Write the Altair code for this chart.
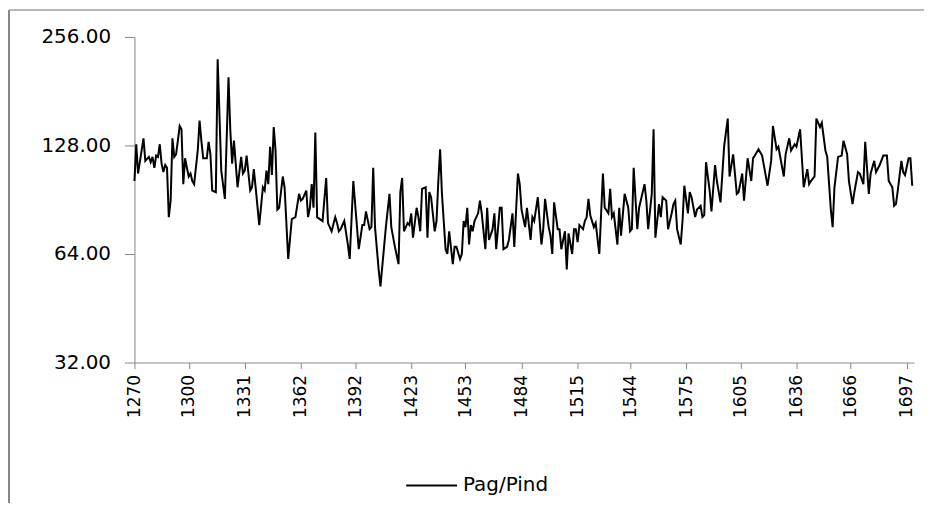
import altair as alt
import pandas as pd

years = [1270, 1271, 1272, 1275, 1276, 1278, 1279, 1280, 1281, 1282, 1283, 1284, 1285, 1286, 1287, 1288, 1289, 1290,
         1291, 1292, 1293, 1294, 1295, 1296, 1297, 1298, 1299, 1300, 1301, 1302, 1303, 1305, 1306, 1307, 1308, 1310,
         1311, 1312, 1313, 1315, 1316, 1318, 1320, 1322, 1323, 1324, 1325, 1326, 1327, 1329, 1330, 1331, 1332, 1334,
         1335, 1336, 1337, 1339, 1341, 1342, 1343, 1344, 1345, 1346, 1347, 1348, 1349, 1350, 1352, 1353, 1355, 1357,
         1359, 1361, 1362, 1363, 1365, 1366, 1367, 1368, 1369, 1370, 1371, 1374, 1376, 1377, 1379, 1381, 1382, 1383,
         1384, 1386, 1388, 1389, 1391, 1394, 1396, 1397, 1398, 1400, 1401, 1402, 1403, 1405, 1406, 1409, 1411, 1412,
         1414, 1416, 1417, 1418, 1419, 1421, 1422, 1423, 1424, 1426, 1427, 1428, 1429, 1431, 1432, 1433, 1434, 1436,
         1437, 1438, 1439, 1440, 1442, 1443, 1444, 1446, 1447, 1448, 1450, 1451, 1452, 1453, 1454, 1455, 1456, 1457,
         1458, 1460, 1461, 1462, 1464, 1465, 1466, 1468, 1469, 1470, 1472, 1473, 1474, 1476, 1477, 1479, 1480, 1482,
         1483, 1484, 1486, 1487, 1489, 1490, 1491, 1493, 1495, 1496, 1497, 1499, 1500, 1501, 1502, 1504, 1505, 1506,
         1507, 1508, 1509, 1510, 1512, 1513, 1514, 1515, 1516, 1518, 1519, 1520, 1521, 1522, 1524, 1525, 1527, 1529,
         1530, 1532, 1533, 1534, 1535, 1537, 1538, 1539, 1541, 1543, 1544, 1545, 1546, 1548, 1549, 1552, 1553, 1554,
         1556, 1557, 1558, 1560, 1561, 1562, 1564, 1565, 1567, 1568, 1569, 1570, 1572, 1573, 1574, 1576, 1577, 1578,
         1580, 1581, 1583, 1584, 1585, 1586, 1588, 1589, 1591, 1592, 1594, 1596, 1598, 1599, 1601, 1603, 1604, 1606,
         1607, 1609, 1611, 1612, 1613, 1615, 1617, 1620, 1622, 1623, 1625, 1626, 1629, 1630, 1632, 1633, 1635, 1636,
         1638, 1640, 1642, 1643, 1644, 1646, 1647, 1649, 1650, 1652, 1653, 1655, 1656, 1657, 1659, 1661, 1662, 1664,
         1665, 1667, 1668, 1670, 1671, 1673, 1674, 1676, 1677, 1679, 1680, 1682, 1684, 1686, 1687, 1689, 1690, 1691,
         1692, 1694, 1695, 1696, 1698, 1699, 1700]

ratio = [102, 129, 107, 134, 116, 119, 115, 119, 111, 120, 119, 129, 114, 108, 113, 111, 81, 90,
         134, 119, 121, 132, 145, 142, 100, 118, 111, 105, 107, 102, 100, 124, 150, 132, 118, 118,
         131, 121, 96, 95, 222, 109, 91, 198, 141, 114, 132, 114, 98, 119, 107, 109, 120, 96,
         98, 110, 98, 77, 98, 96, 109, 100, 127, 106, 144, 124, 85, 86, 105, 98, 62, 80,
         81, 94, 90, 91, 96, 81, 86, 100, 86, 139, 81, 79, 104, 78, 74, 81, 78, 74,
         75, 79, 68, 62, 102, 66, 77, 77, 84, 75, 76, 111, 76, 58, 52, 76, 94, 76,
         67, 60, 95, 104, 74, 78, 77, 83, 71, 86, 81, 74, 97, 98, 71, 95, 92, 74,
         79, 102, 125, 94, 66, 64, 74, 60, 67, 67, 62, 64, 79, 76, 86, 68, 77, 74,
         79, 83, 90, 83, 66, 86, 70, 75, 83, 66, 86, 86, 66, 67, 70, 83, 67, 107,
         100, 85, 76, 86, 70, 81, 79, 92, 68, 75, 91, 76, 72, 64, 89, 75, 75, 66,
         70, 74, 58, 73, 64, 75, 75, 69, 77, 75, 79, 81, 91, 82, 76, 78, 64, 107,
         86, 83, 97, 81, 83, 68, 86, 72, 94, 86, 74, 75, 111, 75, 86, 100, 90, 75,
         94, 142, 71, 88, 81, 92, 90, 75, 83, 88, 90, 75, 68, 79, 99, 83, 95, 92,
         81, 85, 87, 81, 82, 115, 96, 84, 113, 102, 89, 127, 152, 105, 121, 94, 95, 107,
         90, 118, 102, 118, 120, 125, 120, 99, 116, 145, 125, 127, 105, 121, 134, 124, 129, 127,
         142, 98, 110, 100, 102, 105, 152, 144, 148, 124, 119, 85, 76, 98, 119, 120, 132, 121,
         102, 88, 95, 108, 107, 100, 131, 94, 107, 116, 108, 113, 120, 120, 102, 98, 87, 88,
         96, 116, 108, 106, 118, 118, 99]

series_name = "Pag/Pind"
x_ticks = [1270, 1300, 1331, 1362, 1392, 1423, 1453, 1484, 1515, 1544, 1575, 1605, 1636, 1666, 1697]
y_ticks = [32, 64, 128, 256]

df = pd.DataFrame({"year": years, "value": ratio, "series": series_name})

FONT = "DejaVu Sans"
GRAY = "#868686"

line = alt.Chart(df).mark_line(strokeWidth=2).encode(
    x=alt.X("year:Q",
            scale=alt.Scale(domain=[1270, 1701], nice=False, zero=False),
            axis=alt.Axis(values=x_ticks, format="d", labelAngle=270, title=None, grid=False,
                          tickSize=6, labelPadding=6, labelFontSize=17, labelFont=FONT,
                          labelColor="#000000", domainColor=GRAY, tickColor=GRAY,
                          labelOverlap=False)),
    y=alt.Y("value:Q",
            scale=alt.Scale(type="log", base=2, domain=[32, 256], nice=False),
            axis=alt.Axis(values=y_ticks, format=".2f", title=None, grid=False,
                          tickSize=10, labelPadding=14, labelFontSize=20, labelFont=FONT,
                          labelColor="#000000", domainColor=GRAY, tickColor=GRAY)),
    color=alt.Color("series:N", scale=alt.Scale(range=["#000000"]),
                    legend=alt.Legend(title=None, orient="none", legendX=272, legendY=424,
                                      symbolType="stroke", symbolSize=2601, symbolStrokeWidth=2,
                                      labelFontSize=20, labelFont=FONT, labelOffset=5, padding=0)),
)

border_data = alt.Data(values=[{"k": 1}])
left_border = alt.Chart(border_data).mark_rule(color=GRAY, strokeWidth=2).encode(
    x=alt.value(-126), y=alt.value(-27), y2=alt.value(490))
top_border = alt.Chart(border_data).mark_rule(color="#a0a0a0", strokeWidth=1.5).encode(
    x=alt.value(-126), x2=alt.value(800), y=alt.value(-27))

chart = alt.layer(line, left_border, top_border).properties(
    width=783, height=327,
    autosize=alt.AutoSizeParams(type="none"),
    padding={"left": 127, "top": 28, "right": 10, "bottom": 140},
    background="white",
).configure_view(stroke=None)

chart.save("out.html", embed_options={"renderer": "svg", "actions": False})
